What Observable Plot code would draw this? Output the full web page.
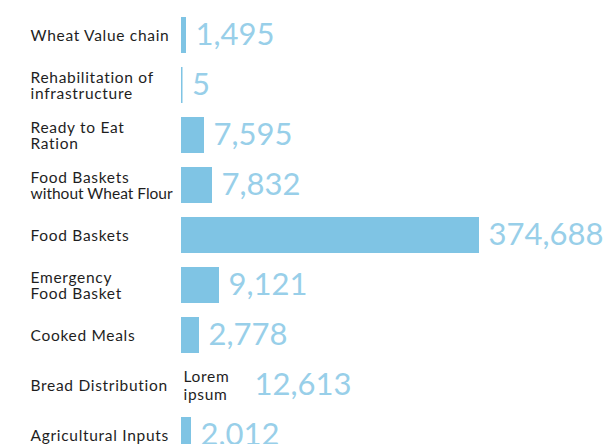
<!DOCTYPE html>
<html>
<head>
<meta charset="utf-8">
<script src="https://cdn.jsdelivr.net/npm/d3@7"></script>
<script src="https://cdn.jsdelivr.net/npm/@observablehq/plot@0.6"></script>
<style>
  html, body { margin: 0; padding: 0; background: #fff; }
  #chart svg { display: block; }
</style>
</head>
<body>
<div id="chart"></div>
<script>
// Categories (top to bottom), with line breaks as in the reference
const categories = [
  "Wheat Value chain",
  "Rehabilitation of\ninfrastructure",
  "Ready to Eat\nRation",
  "Food Baskets\nwithout Wheat Flour",
  "Food Baskets",
  "Emergency\nFood Basket",
  "Cooked Meals",
  "Bread Distribution",
  "Agricultural Inputs"
];
// Values printed beside the bars
const values = [1495, 5, 7595, 7832, 374688, 9121, 2778, 12613, 2012];
// Bar lengths as drawn in the original infographic (not to scale with the values),
// read from the picture in arbitrary drawn units
const drawnLength = [5, 1.5, 23, 31, 298, 38, 18, 0, 10];
// Placeholder text drawn instead of a bar
const placeholder = ["", "", "", "", "", "", "", "Lorem\nipsum", ""];

const data = categories.map((c, i) => ({
  cat: c, value: values[i], len: drawnLength[i], ph: placeholder[i],
  label: d3.format(",")(values[i])
}));
const withBar = data.filter(d => !d.ph);
const withPh = data.filter(d => d.ph);

const barColor = "#7fc4e4";
const numColor = "#98cfe9";
const font = "Lato, 'Open Sans', sans-serif";

const chart = Plot.plot({
  width: 614,
  height: 444,
  marginLeft: 181,
  marginRight: 0,
  marginTop: 0,
  marginBottom: 0,
  style: { fontFamily: font, background: "#fff" },
  x: { domain: [0, 298], range: [181, 479], axis: null },
  y: { domain: categories, range: [0.6, 470.2], padding: 0.28, axis: null },
  marks: [
    Plot.barX(withBar, { y: "cat", x1: 0, x2: "len", fill: barColor }),
    Plot.text(data, {
      y: "cat", text: "cat", frameAnchor: "left", dx: -151,
      textAnchor: "start", fontSize: 15.5, fill: "#1e1e1e", lineHeight: 1.08,
      className: "catlabel"
    }),
    Plot.text(withBar, {
      y: "cat", x: "len", text: "label", dx: 9, textAnchor: "start",
      fontSize: 31, fontWeight: 400, fill: numColor
    }),
    Plot.text(withPh, {
      y: "cat", x: 0, text: "ph", dx: 2, textAnchor: "start",
      fontSize: 15.5, fill: "#1e1e1e", lineHeight: 1.15, className: "phlabel"
    }),
    Plot.text(withPh, {
      y: "cat", x: 0, text: "label", dx: 73, textAnchor: "start",
      fontSize: 31, fontWeight: 400, fill: numColor
    })
  ]
});
// The original's sans is wide; widen the category labels a little,
// except the condensed "without Wheat Flour" line.
chart.querySelectorAll(".catlabel text, .phlabel text").forEach(t => {
  t.setAttribute("letter-spacing", "0.7");
  t.querySelectorAll("tspan").forEach(s => {
    if (s.textContent === "without Wheat Flour") s.setAttribute("letter-spacing", "0");
  });
});
document.getElementById("chart").append(chart);
</script>
</body>
</html>
